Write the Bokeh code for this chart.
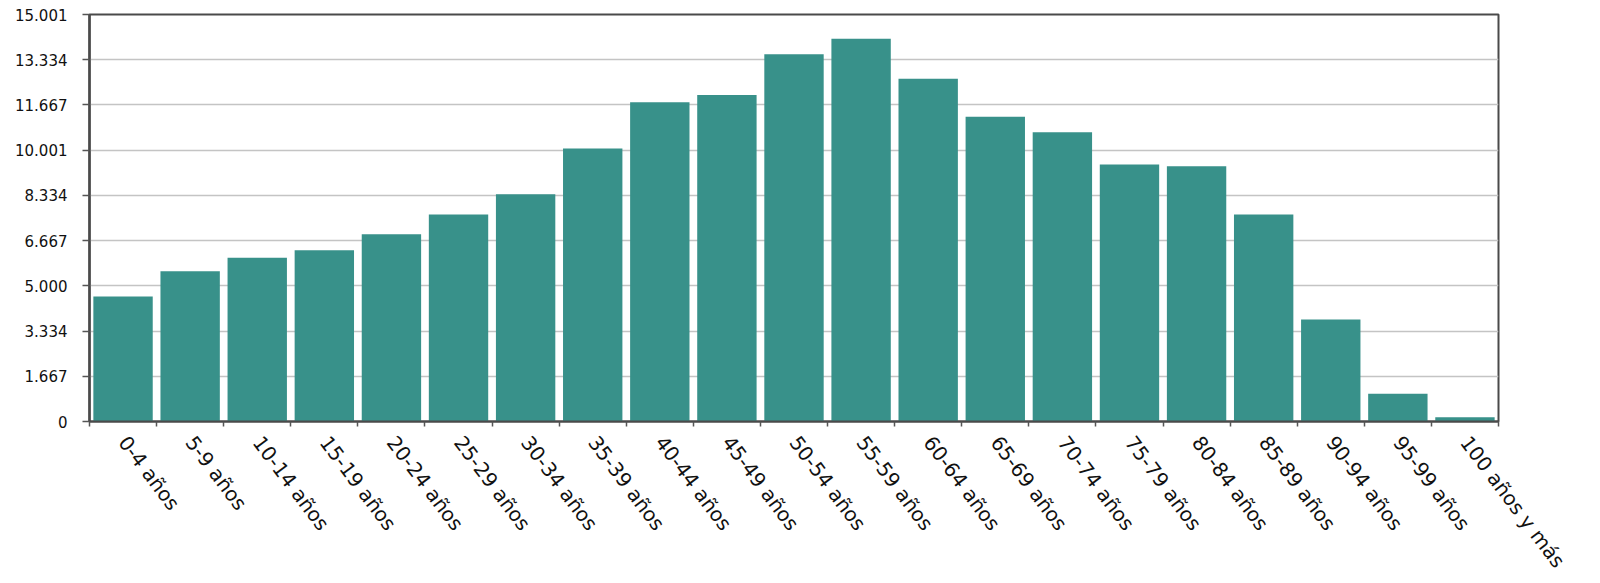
import math
from bokeh.plotting import figure
from bokeh.models import FixedTicker, Range1d, ColumnDataSource
from bokeh.embed import file_html
from bokeh.resources import INLINE

categories = ["0-4 años", "5-9 años", "10-14 años", "15-19 años", "20-24 años",
              "25-29 años", "30-34 años", "35-39 años", "40-44 años", "45-49 años",
              "50-54 años", "55-59 años", "60-64 años", "65-69 años", "70-74 años",
              "75-79 años", "80-84 años", "85-89 años", "90-94 años", "95-99 años",
              "100 años y más"]
values = [4610, 5540, 6040, 6310, 6900, 7630, 8380, 10060, 11770, 12030, 13540,
          14110, 12630, 11230, 10660, 9470, 9410, 7630, 3760, 1020, 160]
y_ticks = [0, 1667, 3334, 5000, 6667, 8334, 10001, 11667, 13334, 15001]
y_labels = ["0", "1.667", "3.334", "5.000", "6.667", "8.334", "10.001",
            "11.667", "13.334", "15.001"]

n = len(categories)
xs = [i + 0.5 for i in range(n)]
src = ColumnDataSource(dict(x=xs, top=values))

p = figure(frame_width=1409, frame_height=407, output_backend="svg",
           toolbar_location=None, x_range=Range1d(0, n), y_range=Range1d(0, 15001),
           min_border_left=89, min_border_top=14, min_border_right=80,
           min_border_bottom=150, background_fill_color="white",
           border_fill_color="white")

p.vbar(x="x", top="top", width=0.885, bottom=0, source=src,
       fill_color="#38918a", line_color=None)

p.outline_line_color = "#4a4a4a"
p.outline_line_width = 2

xa = p.xaxis[0]
xa.ticker = FixedTicker(ticks=xs, minor_ticks=list(range(n + 1)))
xa.major_label_overrides = {x: c for x, c in zip(xs, categories)}
xa.major_tick_line_color = None
xa.minor_tick_line_color = "#555555"
xa.minor_tick_line_width = 1.5
xa.minor_tick_out = 5
xa.minor_tick_in = 0
xa.axis_line_color = "#4a4a4a"
xa.axis_line_width = 2
xa.major_label_orientation = -math.radians(53)
xa.major_label_text_font = "DejaVu Sans"
xa.major_label_text_font_size = "20px"
xa.major_label_text_color = "#111111"
xa.major_label_standoff = 11

ya = p.yaxis[0]
ya.ticker = FixedTicker(ticks=y_ticks)
ya.major_label_overrides = {t: l for t, l in zip(y_ticks, y_labels)}
ya.minor_tick_line_color = None
ya.major_tick_line_color = "#555555"
ya.major_tick_line_width = 1.5
ya.major_tick_out = 7
ya.major_tick_in = 0
ya.axis_line_color = "#4a4a4a"
ya.axis_line_width = 2.5
ya.major_label_text_font = "DejaVu Sans"
ya.major_label_text_font_size = "15px"
ya.major_label_text_color = "#111111"
ya.major_label_standoff = 15

p.xgrid.grid_line_color = None
p.ygrid.ticker = FixedTicker(ticks=y_ticks)
p.ygrid.grid_line_color = "#c4c4c4"
p.ygrid.grid_line_width = 1.5

open("out.html", "w").write(file_html(p, INLINE))
